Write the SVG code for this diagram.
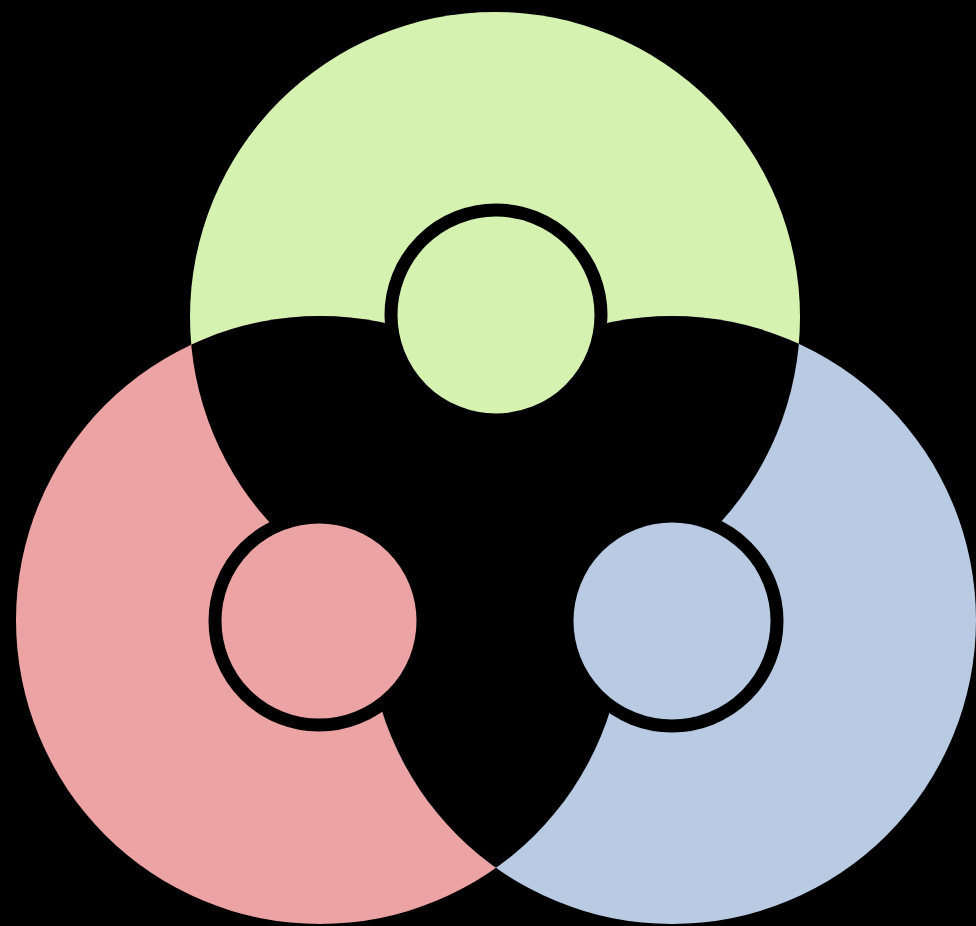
<svg xmlns="http://www.w3.org/2000/svg" width="976" height="926" viewBox="0 0 976 926">
  <defs>
    <clipPath id="cG"><circle cx="495" cy="317" r="305"/></clipPath>
    <clipPath id="cR"><circle cx="320" cy="620" r="304"/></clipPath>
    <style>
      .g{fill:#d5f2b0}
      .r{fill:#eba3a3}
      .b{fill:#b8cbe3}
      .ring{stroke:#000;stroke-width:13}
      .k{fill:#000}
    </style>
  </defs>
  <rect width="976" height="926" fill="#000"/>
  <g id="big-circles">
    <circle id="green" class="g" cx="495" cy="317" r="305"/>
    <circle id="red" class="r" cx="320" cy="620" r="304"/>
    <circle id="blue" class="b" cx="672" cy="620" r="304"/>
  </g>
  <g id="overlaps">
    <circle class="k" cx="320" cy="620" r="304" clip-path="url(#cG)"/>
    <circle class="k" cx="672" cy="620" r="304" clip-path="url(#cG)"/>
    <circle class="k" cx="672" cy="620" r="304" clip-path="url(#cR)"/>
  </g>
  <g id="inner-green"><circle class="g ring" cx="496" cy="315" r="105"/></g>
  <g id="inner-red"><circle class="r ring" cx="319" cy="621" r="104"/></g>
  <g id="inner-blue"><circle class="b ring" cx="672" cy="621" r="105"/></g>
</svg>
